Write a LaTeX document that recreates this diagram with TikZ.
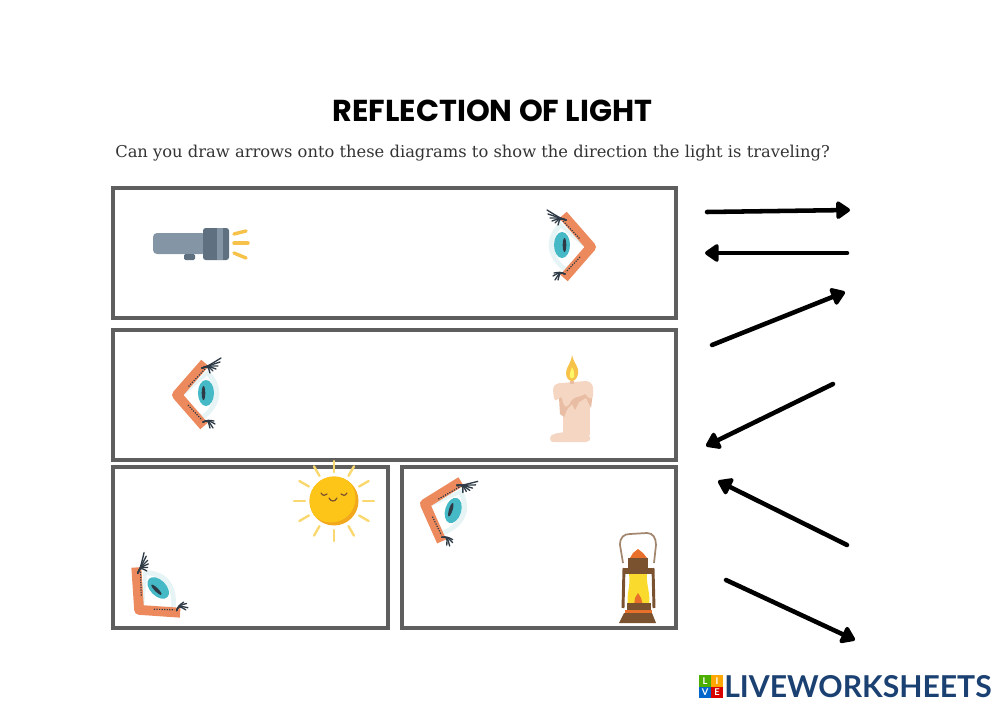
\documentclass[tikz,border=0pt]{standalone}
\usepackage{fontspec}
\setmainfont{Poppins}
\newfontfamily\logofont{Lato}
\newfontfamily\slabfont{DejaVu Serif}
\usetikzlibrary{arrows.meta}
\definecolor{framegray}{HTML}{5E5E5E}
\definecolor{lidorange}{HTML}{EC8A5E}
\definecolor{irisblue}{HTML}{45B9C6}
\definecolor{lensblue}{HTML}{E6F4F5}
\definecolor{lashdark}{HTML}{2E3A46}
\definecolor{torchgray}{HTML}{8496A6}
\definecolor{torchdark}{HTML}{5F7180}
\definecolor{rayyellow}{HTML}{F6C24A}
\definecolor{waxlight}{HTML}{F4D6C2}
\definecolor{waxdark}{HTML}{E8BDA3}
\definecolor{sunyellow}{HTML}{FDC518}
\definecolor{sunshade}{HTML}{F2A81C}
\definecolor{sunray}{HTML}{F9D870}
\definecolor{lampbrown}{HTML}{7A5230}
\definecolor{lamporange}{HTML}{E8702A}
\definecolor{logoblue}{HTML}{1B4173}
\tikzset{
  panel/.style={draw=framegray,line width=2.8pt},
  arrowline/.style={line width=3.4pt,line cap=round,-{Triangle[round,length=11.5pt,width=15pt]}},
  lash/.style={lashdark,line width=1pt,line cap=round},
  logobox/.style={inner sep=0pt,minimum size=8.4pt,text=white,font=\logofont\bfseries\fontsize{7}{7}\selectfont},
  eyeicon/.pic={
    \fill[lensblue](-34,-25) .. controls (-50,-10) and (-50,10) .. (-28,26)--(-4,2)--cycle;
    \fill[white](-33,-19) .. controls (-43,-8) and (-43,8) .. (-28,20)--(-8,2)--cycle;
    \fill[irisblue](-32,-2) ellipse (8 and 13);
    \fill[lashdark](-29.5,-2) ellipse (1.8 and 7);
    \draw[lidorange,line width=7.4pt,line join=round](-31,-32)--(-3,0)--(-30,31);
    \draw[lashdark,line width=.9pt,densely dotted](-31,-26)--(-14,-8);
    \draw[lashdark,line width=.9pt,densely dotted](-14,10)--(-28,25);
    \foreach \tx/\ty in {-47/-37,-46/-33,-44/-29,-42/-26,-39/-24,-36/-22}{
      \draw[lash](-28,-27) .. controls (-34,-29) .. (\tx,\ty);
    }
    \foreach \tx/\ty in {-40/26,-41/29,-39/33,-36/33}{
      \draw[lash](-29,27) .. controls (-34,25) .. (\tx,\ty);
    }
  }
}
\begin{document}
\begin{tikzpicture}[x=.75pt,y=-.75pt]
\useasboundingbox(0,0) rectangle(1000,707);
% heading
\node[font=\bfseries\fontsize{22.7}{22.7}\selectfont] (title) at (492.5,111) {REFLECTION OF LIGHT};
\node[anchor=west,inner sep=0pt,text=black!80,font=\slabfont\fontsize{12.24}{12.24}\selectfont] (question) at (115,153.5) {Can you draw arrows onto these diagrams to show the direction the light is traveling?};
% panels
\draw[panel](113,188) rectangle(676,318);
\draw[panel](113,330) rectangle(676,460);
\draw[panel](113,467) rectangle(388,628);
\draw[panel](402,467) rectangle(676,628);
% torch
\fill[torchgray,rounded corners=3pt](153,233) rectangle(206,254);
\fill[torchdark,rounded corners=1pt](184,254) rectangle(195,260);
\fill[torchdark,rounded corners=2pt](203,228) rectangle(229,260);
\fill[torchgray](217,228) rectangle(223,260);
\begin{scope}[rayyellow,line width=2.6pt,line cap=round]
\draw(234,234)--(246,231);
\draw(234,243)--(248,243);
\draw(234,253)--(246,258);
\end{scope}
% eyes
\pic at (594,247) {eyeicon};
\pic[xscale=-1] at (174,395) {eyeicon};
\pic[rotate=45,xscale=-1] at (137,612) {eyeicon};
\pic[rotate=-17,xscale=-1] at (422,503) {eyeicon};
% candle
\fill[waxlight](563,395) rectangle(590,435);
\fill[waxlight](550,438) .. controls (550,433) and (560,433) .. (565,432)--(585,432) .. controls (592,436) and (592,441) .. (586,442)--(555,442) .. controls (551,442) .. cycle;
\fill[waxdark](562,392)--(559,398)--(560,414)--(564,417)--(566,412)--(568,408)--(572,404)--(575,410)--(579,402)--(586,398)--(591,408)--(593,392)--cycle;
\fill[waxlight](553,390) .. controls (553,384) and (558,383) .. (562,383)--(586,381) .. controls (592,381) and (594,386) .. (593,396) .. controls (590,402) and (588,396) .. (585,394) .. controls (578,398) and (574,396) .. (571,401) .. controls (568,408) and (564,410) .. (562,398) .. controls (560,394) and (556,405) .. (554,398)--cycle;
\fill[waxdark](570,381) rectangle(574,384);
\fill[rayyellow](572,355) .. controls (574,364) and (580,368) .. (578,374) .. controls (577,379) and (574,381) .. (572,381) .. controls (569,381) and (566,378) .. (566,373) .. controls (566,367) and (571,364) .. (572,355)--cycle;
\fill[yellow!60!white](572,367) .. controls (574,371) and (575,374) .. (574,377) .. controls (573,379) and (571,379) .. (570,377) .. controls (569,374) and (571,371) .. (572,367)--cycle;
% sun
\foreach \a in {0,30,...,330}{
  \draw[sunray,line width=1.8pt,line cap=round]({334+29*cos(\a)},{501+29*sin(\a)})--({334+40*cos(\a)},{501+40*sin(\a)});
}
\fill[sunshade](334,501) circle (24.5);
\begin{scope}
\clip(334,501) circle (24.5);
\fill[sunyellow](331,498) circle (24.5);
\end{scope}
\draw[lampbrown,line width=.9pt,line cap=round](321,493) .. controls (323,496) and (325,496) .. (327,494);
\draw[lampbrown,line width=.9pt,line cap=round](341,494) .. controls (343,496) and (345,496) .. (347,493);
\draw[lampbrown,line width=.9pt,line cap=round](329,498) .. controls (331,502) and (335,502) .. (337,498);
% lantern
\draw[lampbrown!70!white,line width=1.3pt](623,563)--(620,545) .. controls (620,537) and (624,534) .. (630,534)--(647,533) .. controls (653,533) and (656,538) .. (656,545)--(654,563);
\fill[rayyellow!60!yellow](629,574)--(647,574) .. controls (646,585) and (651,595) .. (649,605)--(628,605) .. controls (626,595) and (631,585) .. (629,574)--cycle;
\fill[lamporange](634,605)--(635,598)--(638,593)--(641,598)--(643,605)--cycle;
\fill[lamporange](630,558)--(633,553)--(638,549)--(643,553)--(647,558)--cycle;
\fill[lampbrown](628,558) rectangle(648,568);
\fill[lampbrown](624,568) rectangle(653,574);
\draw[lampbrown,line width=2.2pt](624,568)--(623,608);
\draw[lampbrown,line width=2.2pt](653,568)--(654,608);
\fill[lampbrown](627,603) rectangle(651,610);
\fill[lamporange](625,610) rectangle(652,613);
\fill[lampbrown](624,613)--(652,613)--(656,623)--(619,623)--cycle;
% arrows
\coordinate (arrowAs) at (707,212);
\coordinate (arrowAe) at (850,210);
\coordinate (arrowBs) at (847,253);
\coordinate (arrowBe) at (705,253);
\coordinate (arrowCs) at (712,345);
\coordinate (arrowCe) at (845,292);
\coordinate (arrowDs) at (833,384);
\coordinate (arrowDe) at (706,446);
\coordinate (arrowEs) at (847,545);
\coordinate (arrowEe) at (718,481);
\coordinate (arrowFs) at (726,580);
\coordinate (arrowFe) at (855,640);
\draw[arrowline](arrowAs)--(arrowAe);
\draw[arrowline](arrowBs)--(arrowBe);
\draw[arrowline](arrowCs)--(arrowCe);
\draw[arrowline](arrowDs)--(arrowDe);
\draw[arrowline](arrowEs)--(arrowEe);
\draw[arrowline](arrowFs)--(arrowFe);
% logo
\node[logobox,fill=green!55!black!70!yellow] (logoL) at (705,681) {L};
\node[logobox,fill=orange!70!yellow] (logoI) at (717,681) {I};
\node[logobox,fill=blue!50!cyan!80!black] (logoV) at (705,692.5) {V};
\node[logobox,fill=red!85!black] (logoE) at (717,692.5) {E};
\node[anchor=west,inner sep=0pt,text=logoblue,font=\logofont\bfseries\fontsize{22.6}{22.6}\selectfont] (logotext) at (724,687) {LIVEWORKSHEETS};
\end{tikzpicture}
\end{document}
